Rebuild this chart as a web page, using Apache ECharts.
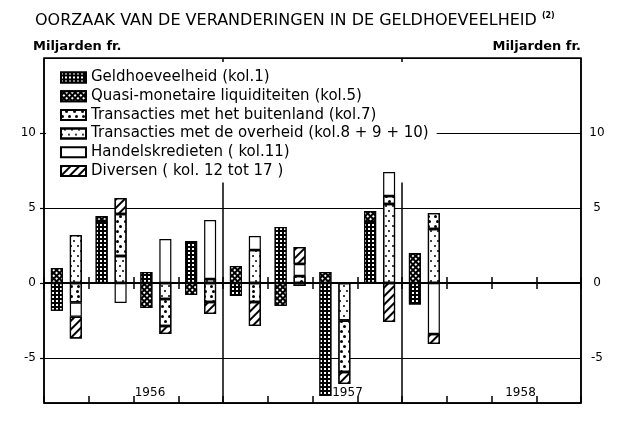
<!DOCTYPE html>
<html><head><meta charset="utf-8">
<script src="https://cdn.jsdelivr.net/npm/echarts@6/dist/echarts.min.js"></script>
<style>html,body{margin:0;padding:0;background:#fff}#c{width:632px;height:424px}</style>
</head><body><div id="c"></div>
<script>
const quarters = ['1956 I','1956 II','1956 III','1956 IV','1957 I','1957 II','1957 III','1957 IV','1958 I','1958 II','1958 III','1958 IV'];
const years = ['1956','1957','1958'];
const yTicks = [-5, 0, 5, 10];
const seriesNames = ['Geldhoeveelheid (kol.1)','Quasi-monetaire liquiditeiten (kol.5)','Transacties met het buitenland (kol.7)','Transacties met de overheid (kol.8 + 9 + 10)','Handelskredieten ( kol.11)','Diversen ( kol. 12 tot 17 )'];
const geld       = [-1.85, 4.13, 0.73, 2.8, -0.87, 3.73, -7.53, 4.07, -1.43, null, null, null];
const quasi      = [1.0, 0.33, -1.67, -0.8, 1.13, -1.53, 0.73, 0.73, 2.0, null, null, null];
const buitenland = [-1.3, 2.8, -1.8, -1.27, -1.27, 0.47, -3.43, 0.53, 1.07, null, null, null];
const overheid   = [3.2, 1.8, -1.07, 0.27, 2.2, -0.2, -2.5, 5.27, 3.6, null, null, null];
const handels    = [-0.95, -1.33, 2.93, 3.93, 0.93, 0.8, null, 1.6, -3.4, null, null, null];
const diversen   = [-1.45, 1.07, -0.53, -0.8, -1.6, 1.13, -0.8, -2.6, -0.67, null, null, null];

const FONT = 'DejaVu Sans';
const black = '#000';
const gridBox = {left: 44, right: 51, top: 58, bottom: 21};

const decals = {
  geld: {symbol:'rect', color:'#fff', symbolSize:1, dashArrayX:[2,1.2], dashArrayY:[2,1.2]},
  quasi: {symbol:'rect', color:'#fff', symbolSize:1, dashArrayX:[1.6,1.4], dashArrayY:[1.6,1.4], rotation: Math.PI/4},
  buit: {symbol:'circle', color:'#000', symbolSize:1, dashArrayX:[[3,4],[0,3.5,3,0.5]], dashArrayY:[3,1.5]},
  over: {symbol:'circle', color:'#000', symbolSize:1, dashArrayX:[[1.6,4.4],[0,3,1.6,1.4]], dashArrayY:[1.6,2.4]},
  div: {symbol:'rect', color:'#000', symbolSize:1, dashArrayX:[1,0], dashArrayY:[1.6,4], rotation: -Math.PI/4}
};

function bar(name, data, stack, color, decal) {
  const it = {color: color, borderColor: black, borderWidth: 1.2};
  if (decal) it.decal = decal;
  return {name, type:'bar', stack, data, barWidth: 12, barGap: '58%', xAxisIndex:0, yAxisIndex:0, z: 3,
    itemStyle: it, emphasis:{disabled:true}, animation:false};
}

const yLeftLabel = {fontSize:12, color:black, fontFamily:FONT, margin:8, showMinLabel:false, showMaxLabel:false,
  formatter: v => yTicks.includes(v) ? String(v) : ''};

const yearRich = {
  y0: {fontSize:12, color:black, fontFamily:FONT, padding:[0,0,0,33]},
  y1: {fontSize:12, color:black, fontFamily:FONT, padding:[0,0,0,70]},
  y2: {fontSize:12, color:black, fontFamily:FONT, padding:[0,0,0,58]}
};

const option = {
  animation: false,
  backgroundColor: '#fff',
  title: {
    left: 30, top: 7,
    text: '{a|OORZAAK VAN DE VERANDERINGEN IN DE GELDHOEVEELHEID} {s|(2)}',
    textStyle: {rich: {
      a: {fontSize: 16, fontFamily: FONT, color: black, fontWeight: 'normal'},
      s: {fontSize: 8, fontFamily: FONT, color: black, verticalAlign: 'top', fontWeight: 'bold'}
    }}
  },
  legend: {
    orient: 'vertical', left: 46, top: 62, padding: [8, 8, 4, 14], z: 1,
    backgroundColor: '#fff', itemWidth: 25, itemHeight: 10, itemGap: 3.7, icon: 'rect',
    selectedMode: false,
    textStyle: {fontSize: 15, fontFamily: FONT, color: black, lineHeight: 14},
    data: seriesNames
  },
  grid: [
    Object.assign({show: true, borderColor: black, borderWidth: 1.5, backgroundColor: 'transparent'}, gridBox),
    Object.assign({}, gridBox),
    Object.assign({}, gridBox)
  ],
  xAxis: [
    {gridIndex:0, type:'category', data:quarters, position:'bottom', z: 4,
     axisLine:{onZero:true, lineStyle:{color:black, width:2}},
     axisTick:{show:true, interval:0, length:6, lineStyle:{color:black, width:1.5}},
     axisLabel:{show:false}, splitLine:{show:false}},
    {gridIndex:0, type:'category', data:quarters, position:'top', z: 4,
     axisLine:{onZero:true, lineStyle:{color:black, width:2}},
     axisTick:{show:true, interval:0, length:6, lineStyle:{color:black, width:1.5}},
     axisLabel:{show:false}, splitLine:{show:false}},
    {gridIndex:1, type:'category', data:quarters, position:'bottom',
     axisLine:{onZero:false, lineStyle:{color:black, width:1.5}},
     axisTick:{show:true, interval:0, inside:true, length:7, lineStyle:{color:black, width:1.5}},
     axisLabel:{show:false}, splitLine:{show:false}},
    {gridIndex:2, type:'category', data:years, position:'bottom',
     axisLine:{show:false}, axisTick:{show:false},
     axisLabel:{inside:true, margin:4, fontSize:12, color:black, fontFamily:FONT,
       formatter: (v, i) => '{y' + i + '|' + v + '}', rich: yearRich},
     splitLine:{show:true, interval:0, lineStyle:{color:black, width:1.5}}}
  ],
  yAxis: [
    {gridIndex:0, type:'value', min:-8, max:15, splitNumber:5, position:'left',
     axisLine:{show:false}, axisTick:{show:true, length:4, lineStyle:{color:black, width:1.2}},
     axisLabel: yLeftLabel,
     splitLine:{show:true, lineStyle:{color:black, width:1.2}},
     name:'Miljarden fr.', nameLocation:'end', nameGap:5,
     nameTextStyle:{align:'left', padding:[0,0,0,-11], fontSize:13, fontWeight:'bold', color:black, fontFamily:FONT}},
    {gridIndex:0, type:'value', min:-8, max:15, splitNumber:5, position:'right',
     axisLine:{show:false}, axisTick:{show:false},
     axisLabel:Object.assign({}, yLeftLabel, {margin:16, align:'center'}),
     splitLine:{show:false},
     name:'Miljarden fr.', nameLocation:'end', nameGap:5,
     nameTextStyle:{align:'right', padding:[0,0,0,0], fontSize:13, fontWeight:'bold', color:black, fontFamily:FONT}},
    {gridIndex:1, type:'value', min:-8, max:15, show:false},
    {gridIndex:2, type:'value', min:-8, max:15, show:false}
  ],
  series: [
    bar(seriesNames[0], geld, 'L', '#000', decals.geld),
    bar(seriesNames[1], quasi, 'L', '#000', decals.quasi),
    bar(seriesNames[3], overheid, 'R', '#fff', decals.over),
    bar(seriesNames[2], buitenland, 'R', '#fff', decals.buit),
    bar(seriesNames[4], handels, 'R', '#fff', null),
    bar(seriesNames[5], diversen, 'R', '#fff', decals.div)
  ]
};
const chart = echarts.init(document.getElementById('c'));
chart.setOption(option);
</script></body></html>
